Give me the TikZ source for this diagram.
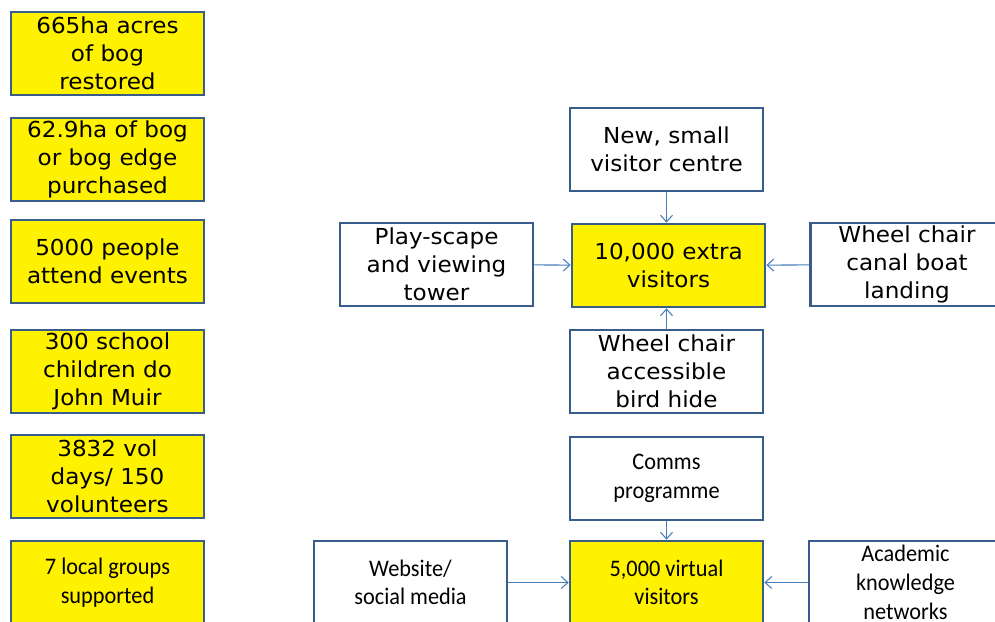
\documentclass[tikz,border=0pt]{standalone}
\usepackage{fontspec}
\setmainfont[FakeStretch=1.05]{DejaVu Sans}
\newfontfamily\calib[FakeStretch=0.94]{Carlito}
\usetikzlibrary{arrows.meta}
\definecolor{boxline}{HTML}{385D8A}
\definecolor{arrowline}{HTML}{4A7EBB}
\tikzset{
  outbox/.style={draw=boxline,line width=2pt,minimum width=144.75pt,minimum height=62.25pt,
    align=center,inner sep=0pt,font=\fontsize{16.5}{21}\selectfont},
  goal/.style={outbox,fill=yellow},
  calfont/.style={font=\calib\fontsize{17.8}{21.5}\selectfont},
  feed/.style={draw=arrowline,line width=0.8pt,-{Straight Barb[length=5pt,width=9pt]}}
}
\begin{document}
\begin{tikzpicture}[x=0.75pt,y=-0.75pt]
\path[use as bounding box,clip] (0,0) rectangle (995,621);
% left column
\node[goal] (bog) at (107.5,53.5) {665ha acres\\of bog\\restored};
\node[goal] (buy) at (107.5,159.5) {62.9ha of bog\\or bog edge\\purchased};
\node[goal] (events) at (107.5,261.5) {5000 people\\attend events};
\node[goal] (school) at (107.5,371.5) {300 school\\children do\\John Muir};
\node[goal] (vol) at (107.5,476.5) {3832 vol\\days/ 150\\volunteers};
\node[goal,calfont] (groups) at (107.5,582.5) {7 local groups\\supported};
% visitors
\node[goal] (extra) at (668.5,265.5) {10,000 extra\\visitors};
\node[outbox] (centre) at (666.5,149.5) {New, small\\visitor centre};
\node[outbox] (play) at (436.5,264.5) {Play-scape\\and viewing\\tower};
\node[outbox] (canal) at (907,264.5) {Wheel chair\\canal boat\\landing};
\node[outbox] (hide) at (666.5,371.5) {Wheel chair\\accessible\\bird hide};
% virtual visitors
\node[goal,calfont] (virtual) at (666.5,582.5) {5,000 virtual\\visitors};
\node[outbox,calfont] (comms) at (666.5,478.5) {Comms\\programme};
\node[outbox,calfont] (web) at (410.5,582.5) {Website/\\social media};
\node[outbox,calfont] (acad) at (905.5,582.5) {Academic\\knowledge\\networks};
\path[feed]
(centre) edge (centre.south |- extra.north)
(play) edge (extra)
(canal) edge (extra)
(hide) edge (hide.north |- extra.south)
(comms) edge (virtual)
(web) edge (virtual)
(acad) edge (virtual);
\end{tikzpicture}
\end{document}
